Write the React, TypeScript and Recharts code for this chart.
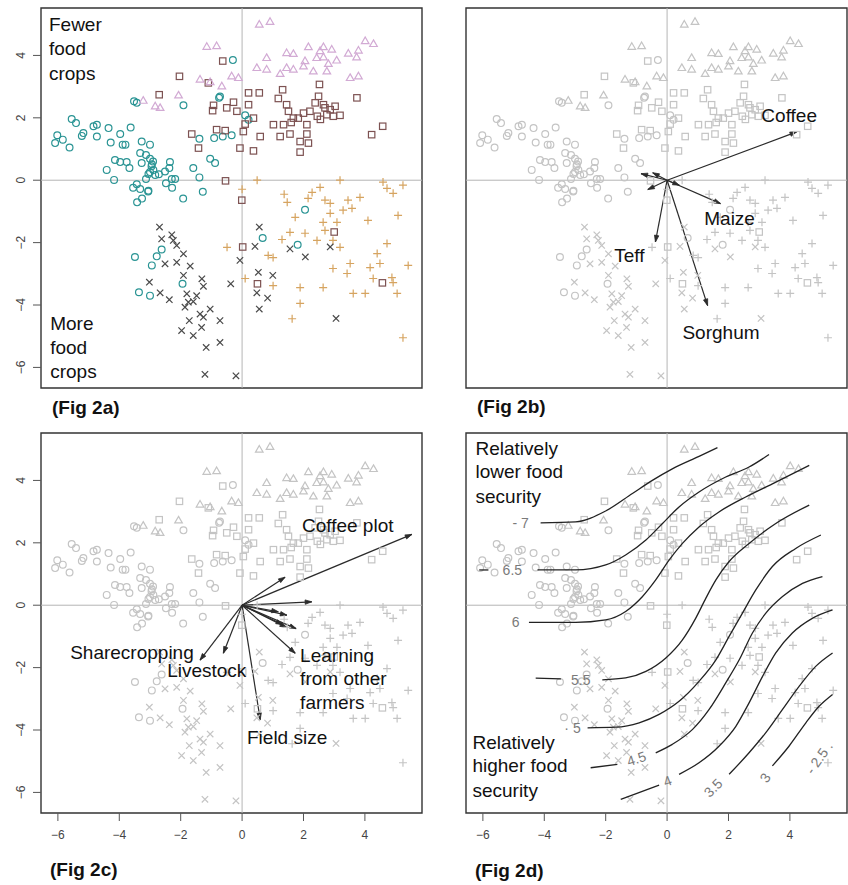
import { ScatterChart, Scatter, XAxis, YAxis, ReferenceLine, ReferenceArea } from "recharts"

const XDOM: [number, number] = [-6.55, 5.86]
const YDOM: [number, number] = [-6.66, 5.52]
const TICKS = [-6, -4, -2, 0, 2, 4]
const FONT = "'Liberation Sans', Arial, sans-serif"

// farm types
const circles = [
    [-0.30, 3.85], [-3.52, 2.53], [-3.43, 2.48], [-1.91, 2.40], [-0.75, 2.64], [-0.72, 2.68],
    [-5.55, 1.96], [-5.41, 1.83], [-6.02, 1.44], [-6.09, 1.19], [-5.84, 1.30], [-5.62, 1.05],
    [-5.17, 1.51], [-5.22, 1.42], [-4.84, 1.73], [-4.73, 1.78], [-4.73, 1.40], [-4.35, 1.67],
    [-3.97, 1.48], [-3.63, 1.69], [-4.28, 1.21], [-3.89, 1.14], [-3.80, 1.14], [-3.27, 1.24],
    [-3.00, 1.14], [-3.32, 0.87], [-3.13, 0.81], [-4.14, 0.65], [-3.97, 0.58], [-3.76, 0.58],
    [-3.67, 0.39], [-4.41, 0.33], [-4.17, 0.01], [-3.27, 0.55], [-3.00, 0.69], [-2.94, 0.51],
    [-2.89, 0.33], [-3.00, 0.26], [-2.83, 0.17], [-3.13, 0.04], [-2.51, 0.28], [-2.35, 0.58],
    [-2.37, 0.39], [-2.29, 0.04], [-2.18, 0.04], [-2.48, -0.10], [-3.43, -0.13], [-3.32, -0.28],
    [-3.05, -0.34], [-2.71, 0.19], [-1.59, 0.39], [-1.39, 0.09], [-1.04, 0.69], [-0.88, 0.55],
    [-0.91, 1.35], [-0.63, 1.40], [-0.34, 1.44], [-1.39, 1.33], [0.10, 2.08], [0.21, 1.94],
    [-3.55, -0.24], [-3.42, -0.71], [-3.26, -0.59], [-3.06, -0.36], [-1.92, -0.59], [-1.28, -0.37],
    [-2.28, -0.24], [2.05, -0.95], [0.67, -1.85], [1.81, -2.07], [-2.62, -2.22], [-2.78, -2.44],
    [-3.49, -2.46], [-2.94, -2.73], [-1.94, -3.32], [-3.36, -3.59], [-3.00, -3.70], [-2.95, 0.45],
    [-2.90, 0.60], [-3.05, 0.20],
]
const squares = [
    [-0.63, 3.82], [-2.04, 3.33], [-1.10, 3.12], [-2.70, 2.74], [0.21, 2.80], [0.56, 2.80],
    [1.32, 2.90], [2.52, 3.07], [3.74, 2.64], [1.18, 2.62], [2.49, 2.69], [-0.93, 2.40],
    [-0.28, 2.50], [0.21, 2.42], [-0.50, 2.32], [1.45, 2.42], [2.38, 2.48], [2.65, 2.42],
    [-0.96, 2.23], [-0.17, 2.21], [0.37, 1.99], [1.51, 2.21], [2.00, 2.15], [2.21, 2.21],
    [2.70, 2.32], [2.87, 2.26], [3.03, 2.37], [3.19, 2.08], [2.97, 2.05], [2.76, 2.10],
    [1.67, 1.99], [1.83, 1.99], [0.10, 1.80], [1.02, 1.78], [1.35, 1.78], [2.11, 1.78],
    [4.58, 1.73], [4.22, 1.46], [-1.64, 1.48], [-0.83, 1.62], [-0.55, 1.59], [0.04, 1.56],
    [0.59, 1.40], [1.24, 1.40], [1.56, 1.48], [2.11, 1.48], [1.89, 1.24], [2.16, 1.19],
    [-0.07, 1.03], [0.37, 0.94], [1.89, 0.90], [-1.42, 1.03], [-0.54, -0.02], [-0.01, -0.64],
    [0.02, -2.14], [3.00, -1.66], [0.50, -3.32], [4.57, -3.29], [2.45, 2.05], [2.55, 1.95],
    [1.60, 1.85],
]
const triangles = [
    [0.56, 4.99], [0.91, 5.08], [-1.15, 4.28], [-0.83, 4.30], [1.45, 4.08], [1.67, 4.05],
    [2.16, 4.27], [2.54, 4.14], [2.65, 4.27], [2.92, 4.19], [2.43, 3.92], [2.65, 3.94],
    [3.46, 4.06], [3.79, 4.16], [4.01, 4.46], [4.28, 4.37], [0.80, 3.92], [0.48, 3.60],
    [0.80, 3.55], [1.24, 3.41], [1.45, 3.60], [1.67, 3.55], [2.05, 3.82], [2.00, 3.65],
    [2.32, 3.49], [2.76, 3.49], [2.81, 3.73], [3.08, 3.84], [3.73, 3.94], [3.52, 3.28],
    [3.79, 3.33], [-1.37, 3.23], [-1.04, 3.15], [-0.66, 3.01], [-0.34, 3.33], [-0.12, 3.28],
    [-2.07, 2.72], [-2.83, 2.37], [-2.67, 2.32], [-3.22, 2.55],
]
const pluses = [
    [0.49, 0.00], [0.00, -0.29], [1.37, -0.45], [1.47, -0.71], [2.15, -0.58], [2.28, -0.39],
    [2.54, -0.23], [2.70, -0.64], [2.87, -0.74], [3.19, 0.00], [3.84, -0.55], [4.59, -0.06],
    [4.72, -0.26], [4.92, -0.42], [5.24, -0.16], [5.08, -1.13], [4.10, -1.29], [3.29, -0.96],
    [3.58, -0.90], [2.87, -1.06], [2.64, -1.35], [3.09, -1.35], [1.73, -1.19], [1.56, -1.67],
    [2.05, -1.70], [2.44, -1.93], [2.70, -1.61], [1.30, -1.90], [-0.49, -2.15], [0.85, -2.41],
    [1.01, -2.48], [0.10, -3.15], [1.01, -3.38], [1.89, -3.44], [1.89, -3.95], [1.63, -4.44],
    [2.64, -3.44], [2.96, -2.83], [3.42, -2.99], [3.52, -2.67], [3.62, -3.63], [4.01, -3.63],
    [4.17, -2.80], [4.27, -3.15], [4.49, -2.67], [4.72, -2.03], [4.40, -2.35], [4.88, -3.12],
    [4.92, -3.28], [5.05, -3.63], [5.41, -2.73], [5.24, -5.05], [3.19, -2.15], [2.96, -1.93],
    [3.45, -0.64],
]
const crosses = [
    [-2.69, -1.50], [-2.62, -1.88], [-2.29, -1.75], [-2.24, -1.93], [-2.13, -2.09], [-1.91, -2.36],
    [-2.51, -2.68], [-2.13, -2.63], [-1.69, -2.75], [-1.91, -3.05], [-1.31, -3.16], [-1.26, -3.40],
    [-3.02, -3.27], [-2.67, -3.61], [-2.37, -3.83], [-1.80, -3.64], [-1.75, -3.91], [-1.59, -3.89],
    [-1.48, -3.70], [-1.86, -4.07], [-1.37, -4.29], [-1.72, -4.50], [-1.26, -4.39], [-1.04, -4.13],
    [-0.72, -4.50], [-1.97, -4.82], [-1.59, -4.98], [-1.32, -4.72], [-1.17, -5.36], [-0.72, -5.20],
    [-1.21, -6.22], [-0.20, -6.27], [-0.37, -3.32], [-0.07, -2.57], [0.42, -2.12], [0.56, -1.50],
    [0.53, -2.95], [1.00, -3.05], [0.48, -3.61], [0.83, -3.78], [0.56, -4.13], [1.56, -2.20],
    [2.06, -2.46], [2.87, -2.14], [3.06, -4.43],
]

// biplot arrows (tips), fig 2b and 2c
const cropArrows = [
    [4.22, 1.55], [1.74, -0.75], [-0.38, -1.98], [1.32, -4.02],
    [-0.85, 0.21], [-0.47, 0.24], [-0.63, -0.30], [0.40, -0.16],
]
const farmArrows = [
    [5.53, 2.27], [1.40, 0.90], [2.27, 0.11], [1.18, -0.21], [1.46, -0.32], [1.32, -0.62],
    [1.45, -0.71], [1.76, -0.75], [1.73, -1.54], [0.59, -3.67], [-0.61, -1.54], [-1.37, -1.76],
]

// contour lines of fig 2d
const c7 = [[-4.12, 2.64], [-2.98, 2.67], [-2.00, 3.02], [-1.13, 3.58], [-0.48, 4.00], [0.17, 4.37], [1.04, 4.77], [1.64, 5.05]]
const c65a = [[-6.12, 1.13], [-5.82, 1.13]]
const c65 = [[-4.22, 1.13], [-2.98, 1.13], [-2.00, 1.29], [-1.35, 1.61], [-0.69, 2.09], [-0.15, 2.62], [0.39, 3.15], [1.04, 3.63], [1.91, 4.11], [2.67, 4.43], [3.32, 4.83]]
const c6 = [[-4.50, -0.55], [-2.98, -0.55], [-2.00, -0.47], [-1.35, -0.20], [-0.80, 0.28], [-0.37, 0.81], [0.07, 1.45], [0.50, 1.98], [1.04, 2.51], [1.69, 2.99], [2.56, 3.47], [3.43, 3.89], [4.63, 4.48]]
const c55a = [[-4.28, -2.34], [-3.46, -2.36]]
const c55 = [[-2.11, -2.39], [-1.35, -2.33], [-0.69, -2.12], [-0.04, -1.69], [0.50, -1.11], [0.93, -0.42], [1.26, 0.22], [1.59, 0.81], [2.02, 1.40], [2.67, 1.98], [3.54, 2.62], [4.63, 3.21]]
const c5 = [[-2.59, -3.93], [-1.67, -3.91], [-0.91, -3.77], [-0.26, -3.50], [0.39, -3.08], [1.04, -2.44], [1.59, -1.75], [2.02, -1.00], [2.45, -0.26], [2.89, 0.49], [3.43, 1.24], [4.19, 1.82], [5.01, 2.25]]
const c45a = [[-2.49, -5.21], [-1.62, -5.10]]
const c45 = [[-0.37, -4.73], [0.17, -4.46], [0.83, -3.98], [1.37, -3.34], [1.91, -2.49], [2.35, -1.75], [2.78, -0.89], [3.21, -0.26], [3.76, 0.28], [4.41, 0.70], [5.06, 0.92]]
const c4a = [[-1.51, -6.22], [-0.26, -5.77]]
const c4 = [[0.39, -5.42], [1.04, -5.05], [1.69, -4.52], [2.24, -3.88], [2.67, -3.13], [3.11, -2.28], [3.54, -1.53], [4.08, -0.89], [4.73, -0.42], [5.39, -0.15]]
const c35 = [[2.02, -5.42], [2.67, -4.73], [3.21, -4.09], [3.76, -3.34], [4.30, -2.60], [4.84, -1.96], [5.39, -1.53]]
const c3 = [[3.43, -5.15], [3.97, -4.52], [4.52, -3.77], [4.95, -3.24], [5.39, -2.86]]
const contours = [c7, c65a, c65, c6, c55a, c55, c5, c45a, c45, c4a, c4, c35, c3]

const contourLabels = [
    { x: -4.77, y: 2.64, text: "- 7", rot: 0 },
    { x: -5.04, y: 1.13, text: "6.5", rot: 0 },
    { x: -4.93, y: -0.55, text: "6", rot: 0 },
    { x: -2.81, y: -2.39, text: "5.5", rot: 0 },
    { x: -3.08, y: -3.93, text: "· 5", rot: 0 },
    { x: -1.0, y: -4.92, text: "4.5", rot: -18 },
    { x: 0.01, y: -5.63, text: "4", rot: -20 },
    { x: 1.5, y: -5.85, text: "3.5", rot: -45 },
    { x: 3.19, y: -5.53, text: "3", rot: -55 },
    { x: 4.95, y: -4.89, text: "- 2.5 .", rot: -55 },
]

const notesA = [
    { x: -6.29, y: 4.98, text: "Fewer" }, { x: -6.29, y: 4.21, text: "food" }, { x: -6.29, y: 3.41, text: "crops" },
    { x: -6.25, y: -4.60, text: "More" }, { x: -6.25, y: -5.37, text: "food" }, { x: -6.25, y: -6.14, text: "crops" },
]
const notesB = [
    { x: 3.07, y: 2.09, text: "Coffee" }, { x: 1.21, y: -1.22, text: "Maize" },
    { x: -1.72, y: -2.41, text: "Teff" }, { x: 0.50, y: -4.89, text: "Sorghum" },
]
const notesC = [
    { x: 1.95, y: 2.56, text: "Coffee plot" }, { x: -5.60, y: -1.53, text: "Sharecropping" },
    { x: -2.44, y: -2.08, text: "Livestock" }, { x: 1.89, y: -1.60, text: "Learning" },
    { x: 1.89, y: -2.36, text: "from other" }, { x: 1.89, y: -3.13, text: "farmers" },
    { x: 0.16, y: -4.25, text: "Field size" },
]
const notesD = [
    { x: -6.24, y: 5.02, text: "Relatively" }, { x: -6.24, y: 4.28, text: "lower food" }, { x: -6.24, y: 3.48, text: "security" },
    { x: -6.34, y: -4.41, text: "Relatively" }, { x: -6.34, y: -5.14, text: "higher food" }, { x: -6.34, y: -5.94, text: "security" },
]

const pts = (a: number[][]) => a.map(([x, y]) => ({ x, y }))

const marker = (kind: string, color: string) => (p: any) => {
    const { cx, cy } = p
    if (cx == null || cy == null) return <g />
    const s = { fill: "none", stroke: color, strokeWidth: 1.2 }
    if (kind === "circle") return <circle cx={cx} cy={cy} r={3.4} {...s} />
    if (kind === "square") return <rect x={cx - 3.2} y={cy - 3.2} width={6.4} height={6.4} {...s} />
    if (kind === "triangle")
        return <polygon points={`${cx},${cy - 4} ${cx + 3.8},${cy + 2.6} ${cx - 3.8},${cy + 2.6}`} {...s} />
    if (kind === "plus") return <path d={`M${cx - 4},${cy}H${cx + 4}M${cx},${cy - 4}V${cy + 4}`} {...s} />
    return <path d={`M${cx - 3.2},${cy - 3.2}L${cx + 3.2},${cy + 3.2}M${cx - 3.2},${cy + 3.2}L${cx + 3.2},${cy - 3.2}`} {...s} />
}

const textShape = (size: number, color: string, anchor: string) => (p: any) => {
    const d = p.payload || {}
    if (p.cx == null) return <g />
    return (
        <text
            x={p.cx}
            y={p.cy}
            fontSize={size}
            fill={color}
            fontFamily={FONT}
            dominantBaseline="central"
            textAnchor={anchor}
            transform={d.rot ? `rotate(${d.rot} ${p.cx} ${p.cy})` : undefined}
        >
            {d.text}
        </text>
    )
}

const arrowShape = (p: any) => {
    const { x1, y1, x2, y2 } = p
    const a = Math.atan2(y2 - y1, x2 - x1)
    const L = 7
    const w = 0.32
    const h1 = `${x2 - L * Math.cos(a - w)},${y2 - L * Math.sin(a - w)}`
    const h2 = `${x2 - L * Math.cos(a + w)},${y2 - L * Math.sin(a + w)}`
    return (
        <g>
            <line x1={x1} y1={y1} x2={x2} y2={y2} stroke="#2b2b2b" strokeWidth={1.2} />
            <polygon points={`${h1} ${x2},${y2} ${h2}`} fill="#2b2b2b" stroke="#2b2b2b" strokeWidth={0.8} />
        </g>
    )
}

const minus = (v: number) => (v < 0 ? "\u2212" + Math.abs(v) : String(v))

const YTick = (p: any) => {
    const { x, y, payload } = p
    return (
        <text
            transform={`translate(${x - 6},${y}) rotate(-90)`}
            textAnchor="middle"
            fontSize={12}
            fill="#444"
            fontFamily={FONT}
        >
            {minus(payload.value)}
        </text>
    )
}

const GREY = "#c4c4c4"

function Panel({ left, top, colored, showX, showY, arrows, notes, contour }: any) {
    const col = (c: string) => (colored ? c : GREY)
    return (
        <div style={{ position: "absolute", left, top }}>
            <ScatterChart
                width={424}
                height={424}
                margin={{ top: 8, right: 2, bottom: showX ? 6 : 36, left: showY ? 8 : 41 }}
            >
                <XAxis
                    type="number"
                    dataKey="x"
                    domain={XDOM}
                    ticks={TICKS}
                    hide={!showX}
                    allowDataOverflow
                    axisLine={false}
                    tickSize={8}
                    tickMargin={9}
                    height={30}
                    tickLine={{ stroke: "#555" }}
                    tickFormatter={minus}
                    tick={{ fontSize: 12, fill: "#444", fontFamily: FONT }}
                />
                <YAxis
                    type="number"
                    dataKey="y"
                    domain={YDOM}
                    ticks={TICKS}
                    hide={!showY}
                    allowDataOverflow
                    axisLine={false}
                    tickSize={8}
                    width={33}
                    tickLine={{ stroke: "#555" }}
                    tick={(p: any) => <YTick {...p} />}
                />
                <ReferenceArea
                    x1={XDOM[0]}
                    x2={XDOM[1]}
                    y1={YDOM[0]}
                    y2={YDOM[1]}
                    ifOverflow="visible"
                    fill="none"
                    stroke="#333"
                    strokeWidth={1.4}
                />
                <ReferenceLine x={0} stroke="#b5b5b5" strokeWidth={1} />
                <ReferenceLine y={0} stroke="#b5b5b5" strokeWidth={1} />
                <Scatter data={pts(circles)} shape={marker("circle", col("#2a9494"))} isAnimationActive={false} />
                <Scatter data={pts(squares)} shape={marker("square", col("#7d5252"))} isAnimationActive={false} />
                <Scatter data={pts(triangles)} shape={marker("triangle", col("#d2aad4"))} isAnimationActive={false} />
                <Scatter data={pts(pluses)} shape={marker("plus", col("#d6a460"))} isAnimationActive={false} />
                <Scatter data={pts(crosses)} shape={marker("cross", col("#4a4a4a"))} isAnimationActive={false} />
                {contour &&
                    contours.map((c, i) => (
                        <Scatter
                            key={"c" + i}
                            data={pts(c)}
                            line={{ stroke: "#222", strokeWidth: 1.3 }}
                            lineType="joint"
                            lineJointType="monotoneX"
                            shape={() => <g />}
                            isAnimationActive={false}
                        />
                    ))}
                {contour && (
                    <Scatter data={contourLabels} shape={textShape(14, "#7a7a7a", "middle")} isAnimationActive={false} />
                )}
                {(arrows || []).map(([x, y]: number[], i: number) => (
                    <ReferenceLine
                        key={"a" + i}
                        segment={[{ x: 0, y: 0 }, { x, y }]}
                        shape={arrowShape}
                        ifOverflow="visible"
                    />
                ))}
                {notes && <Scatter data={notes} shape={textShape(19, "#111", "start")} isAnimationActive={false} />}
            </ScatterChart>
        </div>
    )
}

const figLabel = (text: string, left: number, top: number) => (
    <div
        style={{
            position: "absolute",
            left,
            top,
            fontFamily: FONT,
            fontWeight: "bold",
            fontSize: 19,
            lineHeight: "22px",
            color: "#111",
        }}
    >
        {text}
    </div>
)

export default function App() {
    return (
        <div style={{ position: "absolute", left: 0, top: 0, width: 848, height: 885, background: "#fff" }}>
            <Panel left={0} top={0} colored showY notes={notesA} />
            <Panel left={425} top={0} arrows={cropArrows} notes={notesB} />
            <Panel left={0} top={425} showX showY arrows={farmArrows} notes={notesC} />
            <Panel left={425} top={425} showX contour notes={notesD} />
            {figLabel("(Fig 2a)", 52, 397)}
            {figLabel("(Fig 2b)", 477, 396)}
            {figLabel("(Fig 2c)", 50, 859)}
            {figLabel("(Fig 2d)", 475, 860)}
        </div>
    )
}
